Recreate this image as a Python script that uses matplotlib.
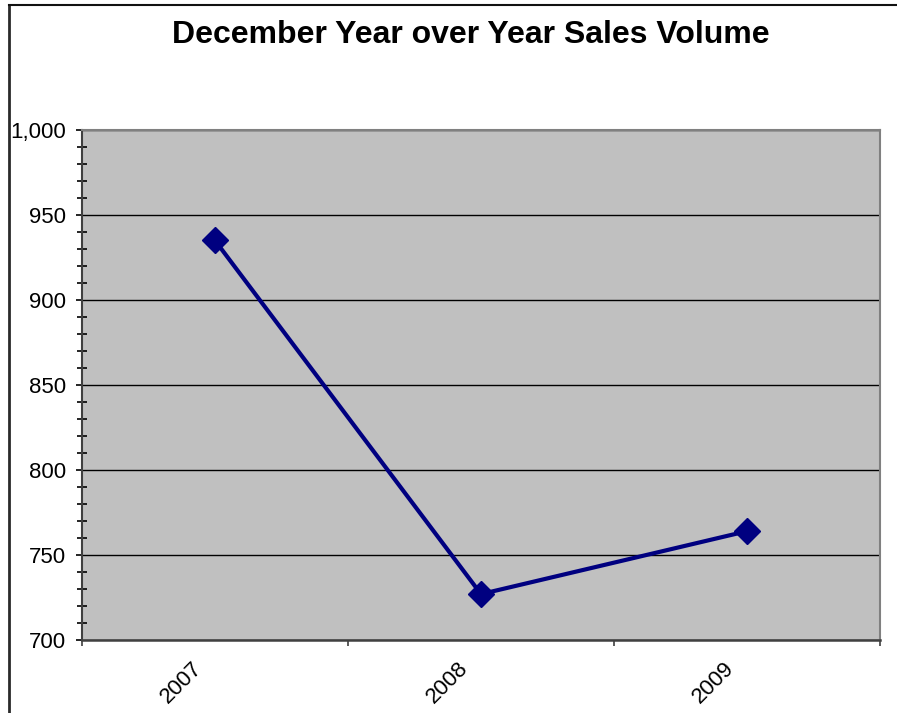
import matplotlib.pyplot as plt
from matplotlib.lines import Line2D
from matplotlib.ticker import MultipleLocator, FuncFormatter, FixedLocator
import matplotlib.transforms as mtransforms

years = ['2007', '2008', '2009']
volume = [935, 727, 764]

plt.rcParams['font.family'] = ['Liberation Sans', 'DejaVu Sans']

W, H = 897, 713
fig = plt.figure(figsize=(W / 100, H / 100), dpi=100)
ax = fig.add_axes([82 / W, 1 - 640 / H, (880 - 82) / W, (640 - 130) / H])
ax.set_facecolor('#c0c0c0')

x = list(range(1, len(years) + 1))
ax.plot(x, volume, color='#000080', lw=3, marker='D', markersize=13,
        markerfacecolor='#000080', markeredgecolor='#000080', zorder=3)

ax.set_xlim(0.5, len(years) + 0.5)
ax.set_ylim(700, 1000)

# y axis
ax.yaxis.set_major_locator(MultipleLocator(50))
ax.yaxis.set_minor_locator(MultipleLocator(10))
ax.yaxis.set_major_formatter(FuncFormatter(lambda v, p: f'{int(v):,}'))
ax.tick_params(axis='y', which='major', direction='out', length=4.5, width=1.2,
               labelsize=16, pad=7, colors='black')
ax.tick_params(axis='y', which='minor', direction='inout', length=7, width=1.2, color='black')
ax.grid(axis='y', which='major', color='black', lw=1)

# x axis: ticks on category boundaries, labels on centres
ax.xaxis.set_major_locator(FixedLocator([0.5 + i for i in range(len(years) + 1)]))
ax.xaxis.set_minor_locator(FixedLocator(x))
ax.set_xticklabels([], minor=False)
ax.set_xticklabels(years, minor=True)
ax.tick_params(axis='x', which='major', direction='out', length=4.5, width=1.2, color='#404040')
ax.tick_params(axis='x', which='minor', length=0, labelsize=16, pad=18)
offset = mtransforms.ScaledTranslation(-0.16, 0.0, fig.dpi_scale_trans)
for lab in ax.get_xticklabels(minor=True):
    lab.set_rotation(45)
    lab.set_ha('right')
    lab.set_va('center')
    lab.set_rotation_mode('anchor')
    lab.set_transform(lab.get_transform() + offset)

for side in ['top', 'right']:
    ax.spines[side].set_color('#808080')
    ax.spines[side].set_linewidth(1.5)
ax.spines['left'].set_color('#404040')
ax.spines['left'].set_linewidth(1.5)
ax.spines['bottom'].set_color('#404040')
ax.spines['bottom'].set_linewidth(1.8)

fig.text(471 / W, 1 - 35 / H, 'December Year over Year Sales Volume',
         ha='center', va='center', fontsize=23, fontweight='bold')

# chart area border (left and top)
fig.add_artist(Line2D([9 / W, 9 / W], [0, 1 - 5 / H], color='#2a2a2a', lw=2,
                      transform=fig.transFigure))
fig.add_artist(Line2D([9 / W, 1], [1 - 5 / H, 1 - 5 / H], color='#111111', lw=1.5,
                      transform=fig.transFigure))

fig.savefig('out.png', dpi=100)
